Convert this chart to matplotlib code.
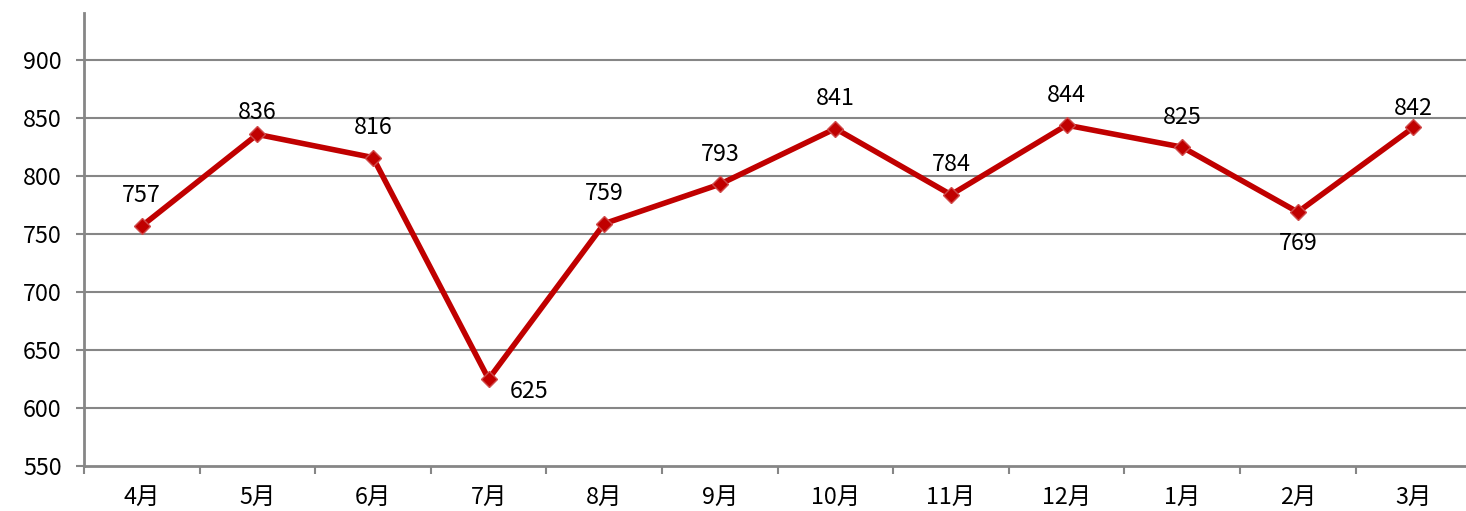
import numpy as np
import matplotlib.pyplot as plt

plt.rcParams['font.family'] = ['Noto Sans CJK SC', 'DejaVu Sans']

months = ['4月', '5月', '6月', '7月', '8月', '9月', '10月', '11月', '12月', '1月', '2月', '3月']
values = [757, 836, 816, 625, 759, 793, 841, 784, 844, 825, 769, 842]
yticks = [550, 600, 650, 700, 750, 800, 850, 900]

W, H = 1466, 511
fig = plt.figure(figsize=(W / 100, H / 100), dpi=100)
left, right, bottom, top = 84, 84 + 12 * 115.6, 466, 13
ax = fig.add_axes([left / W, (H - bottom) / H, (right - left) / W, (bottom - top) / H])

x = np.arange(len(months))
grid_c = '#868686'
for v in yticks[1:]:
    ax.axhline(v, color=grid_c, lw=1.5, zorder=1)

ax.plot(x, values, color='#C00000', lw=4, zorder=3,
        marker='D', ms=8.5, mfc='#C00000', mec='#D04A4A', mew=1)

# label offsets in pixels (dx, dy)
offs = {'5月': (0, 22), '7月': (40, -12), '2月': (0, -31), '3月': (0, 19)}
fs = 16.8
for i, v in enumerate(values):
    dx, dy = offs.get(months[i], (0, 30))
    ax.annotate(str(v), (i, v), xytext=(dx * 0.72, dy * 0.72), textcoords='offset points',
                ha='center', va='center', fontsize=fs)

ax.set_xlim(-0.5, len(months) - 0.5)
ax.set_ylim(550, 940.7)
ax.set_yticks(yticks)
ax.set_yticklabels([str(v) for v in yticks], fontsize=fs)
ax.set_xticks(x)
ax.set_xticklabels(months, fontsize=fs)
ax.set_xticks(np.arange(len(months) + 1) - 0.5, minor=True)
ax.tick_params(axis='x', which='major', length=0, pad=14)
ax.tick_params(axis='x', which='minor', length=6, width=1.5, color=grid_c, direction='out')
ax.tick_params(axis='y', length=6, width=1.5, color=grid_c, pad=10)

for s in ['top', 'right']:
    ax.spines[s].set_visible(False)
for s in ['left', 'bottom']:
    ax.spines[s].set_color(grid_c)
    ax.spines[s].set_linewidth(2)

fig.savefig('out.png', dpi=100)
